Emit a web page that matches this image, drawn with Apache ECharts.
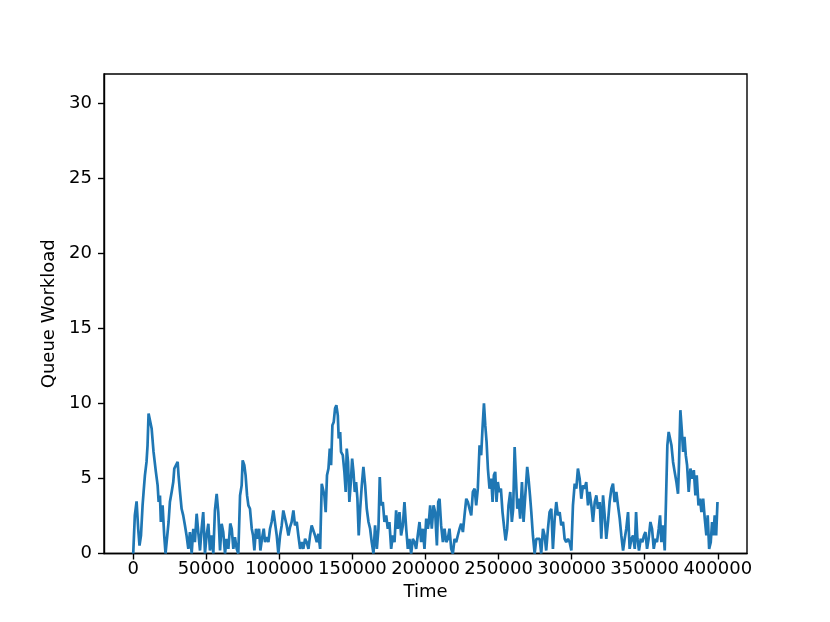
<!DOCTYPE html>
<html>
<head>
<meta charset="utf-8">
<script src="https://cdn.jsdelivr.net/npm/echarts@6/dist/echarts.min.js"></script>
<style>
html, body { margin: 0; padding: 0; background: #fff; }
#chart { width: 830px; height: 622px; }
</style>
</head>
<body>
<div id="chart"></div>
<script>
// time stamps (x) and queue workload (y)
const times = [
  0, 1100, 2300, 3400, 4300, 5300, 6400, 7100, 8000, 9100, 9800, 10500, 11600, 12600, 13900, 15500,
  16700, 17400, 18300, 18900, 20100, 21200, 22100, 23100, 24200, 25100, 26300, 27400, 28100, 29200,
  30400, 31000, 32000, 33100, 34200, 35400, 36500, 37700, 38800, 40000, 41100, 42200, 43400, 44500,
  45700, 46800, 47900, 49100, 50200, 51400, 52500, 53700, 54800, 55900, 57100, 58200, 59400, 60500,
  61600, 62800, 63900, 65100,
  66400, 67400, 68500, 69600, 70800, 71900, 73100, 74200, 74900, 76000, 76900, 77900, 78800, 79900,
  81100, 82000, 82900, 84000, 85200, 86100, 87000, 88100, 89300, 90200, 91300, 92500, 93600, 94700,
  95900, 97000, 98200, 99300, 100500, 101600, 102700, 103900, 105000, 106200, 107300, 108400, 109600,
  110700, 111900, 113000, 114200, 115300, 116400, 117600, 118700, 119900, 121000, 122100, 123300,
  124400, 125600, 126700, 127900, 129000, 130100, 130800,
  131700, 132600, 133600, 134500, 135400, 136300, 137200, 138100, 139000, 140000, 140600, 141600,
  142200, 143400, 144500, 145400, 146100, 147000, 147900, 148900, 149800, 150700, 151600, 152500,
  153400, 154300, 155300, 156400, 157500, 158700, 159800, 161000, 162100, 163200, 164400, 165500,
  166700, 167800, 168700, 169600, 170800, 171900, 173100, 174200, 175300, 176500, 177600, 178800,
  179900, 181000, 182200, 183300, 184500, 185600, 186800, 187900, 189000, 190200, 191300, 192500,
  193600, 194700, 195900, 197000, 198200, 199300, 200500, 201600,
  202300, 203200, 204300, 205500, 206600, 207800, 208700, 209600, 210700, 211900, 213000, 214200,
  215300, 216400, 217600, 218700, 219900, 221000, 222100, 223300, 224400, 225600, 226700, 227900,
  229000, 230100, 231300, 232400, 233600, 234700, 235800, 237000, 238100, 239000, 240000, 240900,
  241800, 242700, 243800, 245000, 245900, 246800, 247700, 248600, 249500, 250500, 251600, 252700,
  253900, 254800, 255900, 256800, 258000, 259100, 260000, 261000, 261900, 262800, 263700, 264800,
  266000, 267100, 268300,
  269600, 270500, 271500, 272400, 273500, 274700, 275800, 276900, 278100, 279200, 280400, 281500,
  282600, 283800, 284900, 286100, 287200, 288400, 289500, 290600, 291800, 292900, 294100, 295200,
  296300, 297500, 298600, 299800, 300900, 302100, 303200, 304300, 305500, 306600, 307800, 308900,
  310000, 311200, 312300, 313500, 314600, 315800, 316900, 318000, 319200, 320300, 321500, 322600,
  323700, 324900, 326000, 327200, 328300, 329400, 330600, 331700, 332900, 334000, 335200, 336300,
  337400, 338600,
  339700, 340900, 342000, 343200, 344100, 345000, 346100, 347300, 348400, 349500, 350500, 351600,
  352700, 353900, 355000, 356200, 357300, 358400, 359600, 360500, 361400, 362600, 363700, 364600,
  365500, 366400, 367400, 368300, 369400, 370500, 371700, 372800, 373500, 374400, 375300, 376300,
  377200, 378100, 379000, 380100, 381300, 382400, 383600, 384700, 385600, 386800, 387900, 388800,
  390000, 391100, 392200, 393100, 394100, 395200, 396100, 397000, 397900, 398900, 399800
]
const workload = [
  0, 2.54, 3.47, 1.65, 0.53, 1.2, 3.21, 4.1, 5.21, 6.1, 7.21, 9.33, 9.2, 8.33, 6.77, 5.44,
  4.54, 3.43, 3.87, 2.1, 3.21, 1.2, 0, 0, 2.1, 3.43, 4.1, 4.76, 5.66, 5.77,
  6.1, 5.21, 4.1, 2.98, 2.54, 1.87, 1.2, 0.31, 1.43, 0, 1.65, 0.76, 2.65, 1.43,
  0.2, 1.65, 2.76, 0, 1.2, 1.98, 0.2, 1.2, 0, 2.87, 3.98, 2.76, 0.2, 1.98,
  1.43, 0, 0.98, 0.31,
  2.0, 1.65, 0.31, 1.09, 0.31, 0, 3.87, 4.54, 6.21, 5.88, 5.21, 3.87, 3.21, 2.98,
  1.65, 1.2, 0.2, 1.65, 0.98, 1.65, 0.2, 0.98, 1.65, 0.76, 1.09, 0.76, 1.65, 2.1,
  2.87, 2.87, 1.2, 0, 1.2, 1.87, 2.87, 2.87, 1.87, 1.2, 1.76, 2.1, 2.87,
  1.87, 2.1, 1.2, 0.31, 0.76, 0.31, 0.98, 0.76, 0.31, 1.2, 1.87, 1.98,
  1.2, 0.76, 1.31, 0.31, 4.65, 4.54, 3.87,
  2.76, 5.21, 5.66, 6.99, 5.88, 8.55, 8.77, 9.66, 9.88, 9.2, 7.66, 8.1,
  6.77, 6.55, 5.44, 4.1, 6.99, 6.1, 3.43, 4.76, 6.32, 5.44, 4.1, 4.76,
  3.65, 1.2, 2.98, 4.54, 5.77, 4.54, 2.98, 2.1, 1.65, 0.76, 0, 1.87,
  0.31, 1.65, 5.1, 3.21, 3.43, 2.1, 2.54, 1.65, 2.1, 0.31, 1.2, 0.76,
  2.87, 1.65, 2.76, 1.2, 1.87, 3.43, 1.65, 0.31, 0.98, 0, 0.98, 0.76,
  0.31, 1.2, 2.1, 0.76, 1.65, 0.31, 2.32, 1.65,
  2.1, 3.21, 1.65, 3.21, 2.76, 0.53, 3.43, 3.65, 1.87, 0.76, 1.65, 0.76,
  0.98, 1.65, 0.31, 0, 0.98, 0.76, 1.2, 1.65, 1.98, 1.43, 2.54, 3.65,
  3.43, 2.98, 2.54, 4.1, 4.32, 3.21, 4.32, 7.21, 6.55, 8.33, 10.0, 8.55,
  7.43, 5.66, 4.32, 4.99, 3.43, 5.21, 5.44, 3.43, 4.76, 4.1, 4.32, 2.76,
  1.65, 0.87, 1.65, 3.21, 4.1, 2.1, 2.98, 7.1, 4.99, 2.98, 3.65, 2.32,
  4.76, 2.1, 3.87,
  5.77, 4.99, 3.87, 2.76, 1.2, 0, 0.98, 0.98, 0.98, 0, 1.65, 1.2,
  0.2, 1.65, 2.76, 2.98, 0.31, 2.32, 3.43, 2.54, 2.76, 1.87, 2.1, 0.98,
  0.76, 0.98, 0.76, 0.2, 3.21, 4.65, 4.32, 5.66, 4.99, 3.65, 4.54, 4.32,
  4.76, 3.21, 4.1, 3.21, 2.1, 3.43, 3.87, 2.98, 3.43, 0.98, 3.87, 2.54,
  0.98, 2.1, 3.43, 4.32, 4.65, 3.43, 4.1, 3.21, 2.32, 1.2, 0.2, 0.98,
  1.65, 2.76,
  0.31, 0.98, 1.2, 0.31, 2.76, 0.98, 0.2, 0.98, 0.76, 1.2, 1.43, 0.31,
  0.98, 2.1, 1.65, 0.31, 0.98, 0.76, 1.65, 2.54, 0.76, 1.87, 0.2, 3.65,
  7.21, 8.1, 8.21, 7.21, 6.1, 5.44, 4.76, 3.98, 6.1, 9.55, 8.33, 6.77,
  7.77, 6.55, 5.88, 4.1, 5.66, 4.99, 5.55, 3.87, 5.21, 3.21, 3.65, 2.76,
  3.65, 2.32, 1.2, 2.54, 0.31, 0.76, 2.1, 1.2, 2.54, 1.2, 3.43
]
const xTicks = [0, 50000, 100000, 150000, 200000, 250000, 300000, 350000, 400000]
const yTicks = [0, 5, 10, 15, 20, 25, 30]

const font = 'DejaVu Sans'
const black = '#000'

const chart = echarts.init(document.getElementById('chart'), null, { renderer: 'canvas' })
const option = {
  animation: false,
  backgroundColor: '#fff',
  grid: {
    left: 104,
    top: 74,
    width: 643,
    height: 479.5,
    show: true,
    borderColor: black,
    borderWidth: 1.4,
    backgroundColor: 'transparent'
  },
  xAxis: {
    type: 'value',
    min: -20000,
    max: 420000,
    name: 'Time',
    nameLocation: 'middle',
    nameGap: 18,
    nameTextStyle: { fontFamily: font, fontSize: 18, color: black },
    axisLine: { show: true, onZero: false, lineStyle: { color: black, width: 1.4 } },
    axisTick: { show: true, customValues: xTicks, length: 6, lineStyle: { color: black, width: 1.4 } },
    axisLabel: {
      customValues: xTicks,
      fontFamily: font,
      fontSize: 18,
      color: black,
      margin: 7,
      formatter: (v) => String(v)
    },
    splitLine: { show: false }
  },
  yAxis: {
    type: 'value',
    min: 0,
    max: 31.95,
    name: 'Queue Workload',
    nameLocation: 'middle',
    nameGap: 39.5,
    nameTextStyle: { fontFamily: font, fontSize: 18, color: black },
    axisLine: { show: true, onZero: false, lineStyle: { color: black, width: 1.4 } },
    axisTick: { show: true, customValues: yTicks, length: 6, lineStyle: { color: black, width: 1.4 } },
    axisLabel: {
      customValues: yTicks,
      fontFamily: font,
      fontSize: 18,
      color: black,
      margin: 12
    },
    splitLine: { show: false }
  },
  series: [
    {
      type: 'line',
      data: times.map((t, i) => [t, workload[i]]),
      showSymbol: false,
      symbol: 'none',
      lineStyle: { color: '#1f77b4', width: 2.7 },
      clip: true
    }
  ]
}
chart.setOption(option)
</script>
</body>
</html>
